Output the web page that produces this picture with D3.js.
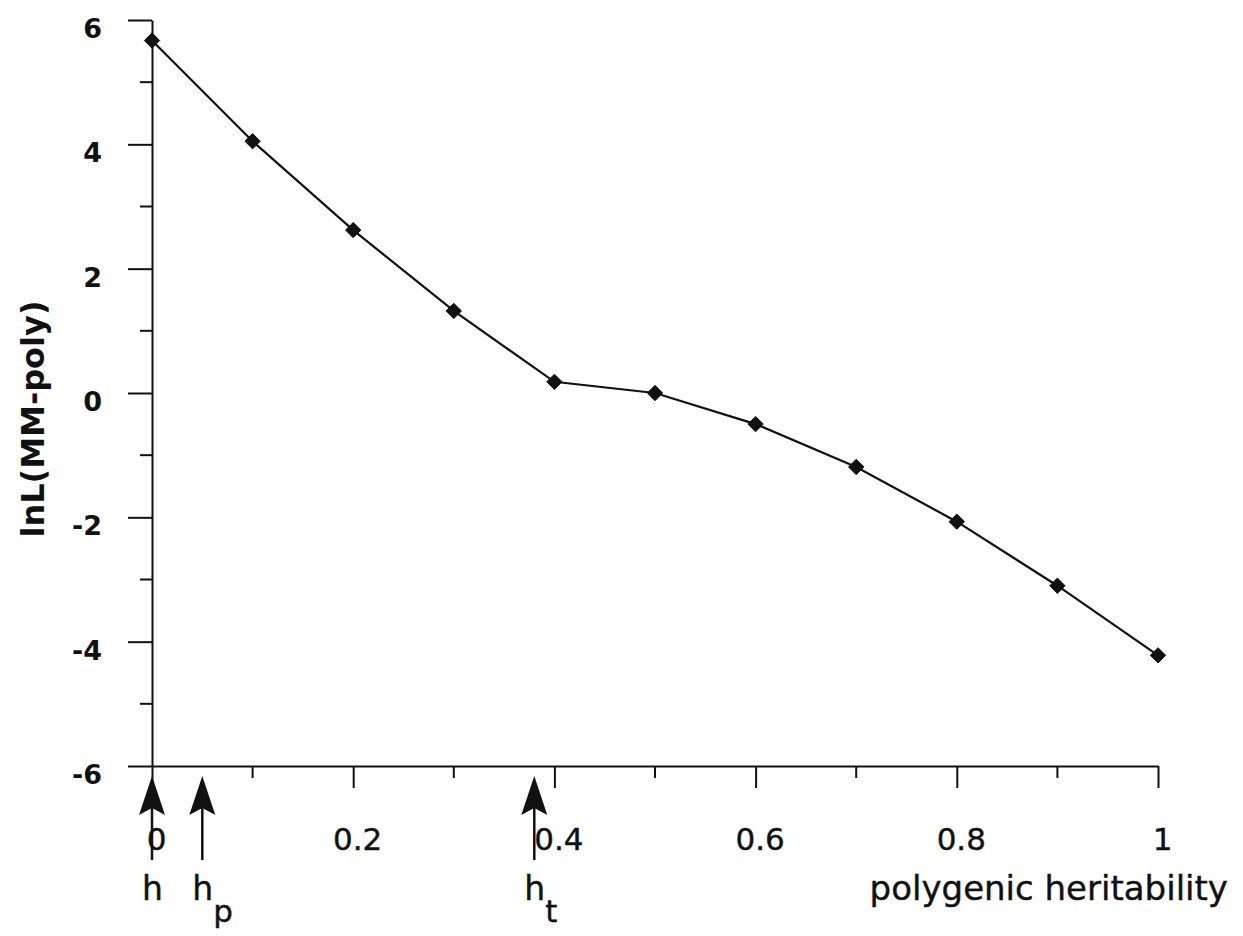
<!DOCTYPE html>
<html>
<head>
<meta charset="utf-8">
<script src="https://cdn.jsdelivr.net/npm/d3@7"></script>
<style>
  body { margin: 0; background: #fff; }
  text { font-family: "DejaVu Sans", sans-serif; fill: #111; }
</style>
</head>
<body>
<svg id="chart" width="1243" height="936"></svg>
<script>
// heritability values and log-likelihood differences
var hValues = [0, 0.1, 0.2, 0.3, 0.4, 0.5, 0.6, 0.7, 0.8, 0.9, 1]
var lnL = [5.67, 4.05, 2.62, 1.32, 0.18, 0, -0.5, -1.19, -2.07, -3.1, -4.22]
var xTicks = [0, 0.2, 0.4, 0.6, 0.8, 1]
var xMinor = [0.1, 0.3, 0.5, 0.7, 0.9]
var yTicks = [-6, -4, -2, 0, 2, 4, 6]
var yMinor = [-5, -3, -1, 1, 3, 5]
// arrows marking estimates below the axis
var arrowPos = [0, 0.05, 0.38]
var arrowLab = [["h", ""], ["h", "p"], ["h", "t"]]

var svg = d3.select("#chart")
var x = d3.scaleLinear().domain([0, 1]).range([152, 1158])
var y = d3.scaleLinear().domain([-6, 6]).range([766, 20])

// y axis
var yAxis = svg.append("g").attr("transform", "translate(152,0)")
yAxis.call(d3.axisLeft(y).tickValues(yTicks).tickSize(24).tickPadding(26).tickSizeOuter(0)
   .tickFormat(function(d){ return String(d) }))
yAxis.selectAll("text")
   .style("font-size", "27px").style("font-weight", "bold")
   .attr("dy", "0.65em")
yAxis.selectAll(".minor").data(yMinor).enter().append("line")
   .attr("x1", -12).attr("x2", 0)
   .attr("y1", function(d){ return y(d) }).attr("y2", function(d){ return y(d) })
yAxis.selectAll("line").attr("stroke", "#111").attr("stroke-width", 2)
yAxis.select(".domain").attr("stroke", "#111").attr("stroke-width", 2)

// x axis
var xAxis = svg.append("g").attr("transform", "translate(0,766)")
xAxis.call(d3.axisBottom(x).tickValues(xTicks).tickSize(22).tickPadding(62).tickSizeOuter(0)
   .tickFormat(function(d){ return d == 0 || d == 1 ? String(d) : d3.format(".1f")(d) }))
xAxis.selectAll("text").style("font-size", "31px").attr("dx", 4).attr("dy", 0)
   .attr("stroke", "#111").attr("stroke-width", 0.4)
xAxis.selectAll(".minor").data(xMinor).enter().append("line")
   .attr("y1", 0).attr("y2", 12)
   .attr("x1", function(d){ return x(d) }).attr("x2", function(d){ return x(d) })
xAxis.selectAll("line").attr("stroke", "#111").attr("stroke-width", 2)
xAxis.select(".domain").attr("stroke", "#111").attr("stroke-width", 2)

// data line
var line = d3.line()
   .x(function(d, i){ return x(hValues[i]) })
   .y(function(d){ return y(d) })
svg.append("path").datum(lnL)
   .attr("d", line)
   .attr("fill", "none")
   .attr("stroke", "#111")
   .attr("stroke-width", 2.2)

svg.selectAll(".pt").data(lnL).enter().append("path")
   .attr("class", "pt")
   .attr("d", d3.symbol().type(d3.symbolDiamond2).size(150))
   .attr("transform", function(d, i){ return "translate(" + x(hValues[i]) + "," + y(d) + ")" })
   .attr("fill", "#111")
   .attr("stroke", "#111").attr("stroke-width", 1).attr("stroke-linejoin", "round")

// arrows
var arr = svg.selectAll(".arr").data(arrowPos).enter().append("g")
   .attr("transform", function(d){ return "translate(" + x(d) + ",0)" })
arr.append("line").attr("x1", 0).attr("x2", 0).attr("y1", 800).attr("y2", 860)
   .attr("stroke", "#111").attr("stroke-width", 2.5)
arr.append("path").attr("d", "M0,776 L-13,815 L0,808 L13,815 Z").attr("fill", "#111")

var lab = arr.append("text").attr("y", 900)
   .style("font-size", "33px").attr("stroke", "#111").attr("stroke-width", 0.4)
lab.append("tspan").attr("x", -10).text(function(d, i){ return arrowLab[i][0] })
lab.append("tspan").attr("dy", 22).style("font-size", "31px")
   .text(function(d, i){ return arrowLab[i][1] })

// axis titles
svg.append("text").attr("x", 1228).attr("y", 900).attr("text-anchor", "end")
   .style("font-size", "34px").attr("stroke", "#111").attr("stroke-width", 0.4)
   .text("polygenic heritability")
svg.append("text").attr("transform", "translate(44,419) rotate(-90)")
   .attr("text-anchor", "middle").style("font-size", "32px").style("font-weight", "bold")
   .text("lnL(MM-poly)")
</script>
</body>
</html>
